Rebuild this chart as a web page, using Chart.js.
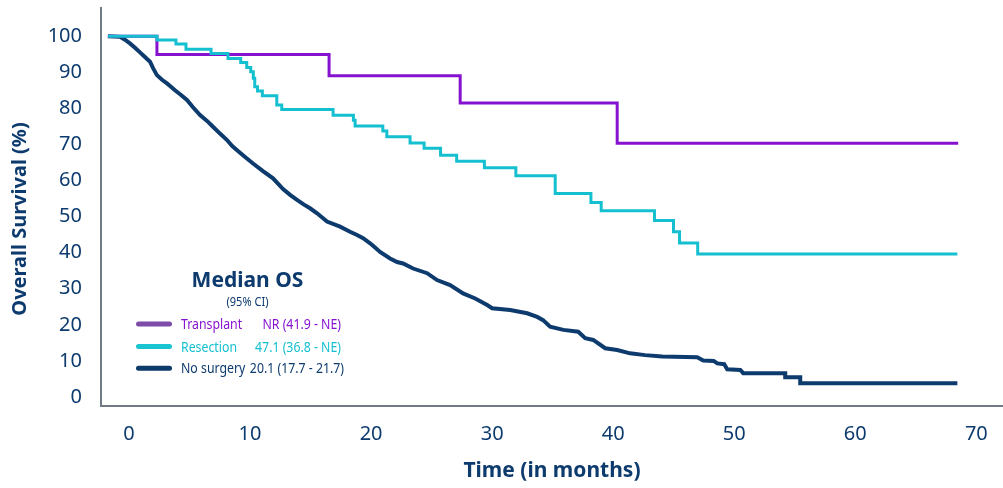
<!DOCTYPE html>
<html>
<head>
<meta charset="utf-8">
<script src="https://cdn.jsdelivr.net/npm/chart.js@4.4.1/dist/chart.umd.min.js"></script>
<style>
html, body { margin: 0; padding: 0; background: #fff; }
#wrap { width: 1003px; height: 488px; }
</style>
</head>
<body>
<div id="wrap"><canvas id="km" width="1003" height="488"></canvas></div>
<script>
// tick labels
const xTicks = [0, 10, 20, 30, 40, 50, 60, 70];
const yTicks = [0, 10, 20, 30, 40, 50, 60, 70, 80, 90, 100];

// Transplant (months, % surviving) - KM steps
const transplantMonths = [-1.74, 2.31, 16.53, 27.36, 40.33, 68.5];
const transplantOS = [100, 94.9, 89.0, 81.5, 70.3, 70.3];

// Resection - KM steps
const resectionMonths = [-1.74, 2.31, 3.88, 4.71, 6.78, 8.18, 9.23, 9.73, 10.06, 10.27, 10.39, 10.62, 11.02,
  12.21, 12.62, 16.86, 18.54, 18.68, 20.97, 21.30, 23.22, 24.38, 25.74, 27.07, 29.36, 31.96, 35.21,
  38.16, 39.01, 43.41, 44.98, 45.48, 46.98, 68.43];
const resectionOS = [100, 98.9, 97.8, 96.4, 95.2, 93.8, 92.7, 91.3, 90.1, 88.3, 86.0, 84.8, 83.5,
  80.9, 79.7, 78.1, 76.7, 75.1, 73.7, 72.1, 70.4, 68.9, 67.0, 65.3, 63.5, 61.3, 56.4,
  53.9, 51.6, 48.9, 45.8, 42.7, 39.6, 39.6];

// No surgery, corners of the late steps included
const noSurgeryMonths = [-1.74, -0.74, -0.33, 0.08, 0.50, 0.91, 1.32, 1.74, 1.98, 2.31, 2.73, 3.14, 3.47,
  3.80, 4.30, 4.79, 5.29, 5.87, 6.45, 6.94, 7.52, 8.10, 8.51, 8.93, 9.59, 10.25, 11.07, 11.90,
  12.73, 13.31, 13.88, 14.46, 14.96, 15.54, 16.36, 17.44, 18.26, 18.84, 19.34, 19.92, 20.33, 20.74,
  21.57, 22.15, 22.64, 23.47, 24.63, 25.45, 26.53, 27.60, 28.60, 29.59, 30.00, 31.49, 32.89, 33.72,
  34.21, 34.79, 35.89, 37.11, 37.69, 38.35, 39.34, 40.33, 41.40, 42.64, 44.05, 46.94, 47.44, 48.30,
  48.60, 49.17, 49.42, 50.50, 50.74, 54.21, 54.21, 55.45, 55.45, 68.43];
const noSurgeryOS = [100, 99.8, 99.0, 98.0, 96.8, 95.5, 94.2, 92.9, 91.2, 89.2, 87.9, 86.9, 86.0,
  85.0, 83.7, 82.3, 80.3, 78.1, 76.5, 74.9, 73.0, 71.2, 69.6, 68.4, 66.5, 64.7, 62.6, 60.6,
  57.6, 56.0, 54.6, 53.3, 52.3, 50.9, 48.6, 47.2, 45.8, 44.9, 44.0, 42.6, 41.4, 40.2,
  38.4, 37.4, 37.0, 35.6, 34.3, 32.4, 31.0, 28.7, 27.3, 25.5, 24.6, 24.1, 23.2, 22.2,
  21.3, 19.5, 18.6, 18.1, 16.3, 15.8, 13.5, 13.0, 12.1, 11.6, 11.2, 11.0, 10.1, 10.0,
  9.3, 9.1, 7.7, 7.5, 6.6, 6.6, 5.5, 5.5, 3.8, 3.8];

// legend text
const seriesNames = ['Transplant', 'Resection', 'No surgery'];
const medianText = ['NR (41.9 - NE)', '47.1 (36.8 - NE)', '20.1 (17.7 - 21.7)'];

const navy = '#0d3b6e';
const purple = '#8612d0';
const cyan = '#14c0cf';
const axisGrey = '#6f7a84';

const toPoints = (xs, ys) => xs.map((x, i) => ({x: x, y: ys[i]}));

// narrow text: squeeze Noto Sans horizontally
const narrowText = (ctx, text, x, y, squeeze) => {
  ctx.save();
  ctx.translate(x, y);
  ctx.scale(squeeze, 1);
  ctx.fillText(text, 0, 0);
  ctx.restore();
};

// legend box + rotated y title, drawn after the chart
const annotations = {
  id: 'annotations',
  afterDraw(chart) {
    const ctx = chart.ctx;
    ctx.save();
    ctx.translate(20.5, 219);
    ctx.rotate(-Math.PI / 2);
    ctx.font = 'bold 20px "Noto Sans"';
    ctx.fillStyle = navy;
    ctx.textAlign = 'center';
    ctx.textBaseline = 'middle';
    ctx.fillText('Overall Survival (%)', 0, 0);
    ctx.restore();

    ctx.save();
    ctx.fillStyle = navy;
    ctx.textAlign = 'center';
    ctx.textBaseline = 'alphabetic';
    ctx.font = 'bold 21px "Noto Sans"';
    ctx.fillText('Median OS', 247.5, 287);
    ctx.font = '13px "Noto Sans"';
    narrowText(ctx, '(95% CI)', 247.5, 306, 0.85);

    const swatch = ['#7d4ba8', '#1ac4d0', '#0b3a6b'];
    const textCol = [purple, cyan, navy];
    const rowY = [329, 351.5, 373.3];
    const valueRight = [341, 341, 344];
    ctx.lineCap = 'round';
    ctx.lineWidth = 5;
    ctx.font = '15px "Noto Sans"';
    rowY.forEach((y, i) => {
      ctx.strokeStyle = swatch[i];
      ctx.beginPath();
      ctx.moveTo(138.5, y - 5);
      ctx.lineTo(169.5, y - 5);
      ctx.stroke();
      ctx.fillStyle = textCol[i];
      ctx.textAlign = 'left';
      narrowText(ctx, seriesNames[i], 181, y, 0.82);
      ctx.textAlign = 'right';
      narrowText(ctx, medianText[i], valueRight[i], y, 0.82);
    });
    ctx.restore();
  }
};

new Chart(document.getElementById('km'), {
  type: 'line',
  data: {
    datasets: [
      {label: 'Resection', data: toPoints(resectionMonths, resectionOS), borderColor: cyan, borderWidth: 3, stepped: 'before'},
      {label: 'Transplant', data: toPoints(transplantMonths, transplantOS), borderColor: purple, borderWidth: 3, stepped: 'before'},
      {label: 'No surgery', data: toPoints(noSurgeryMonths, noSurgeryOS), borderColor: navy, borderWidth: 4, stepped: false}
    ]
  },
  options: {
    responsive: false,
    animation: false,
    devicePixelRatio: 1,
    layout: {padding: {top: 8, right: 0, bottom: 0, left: 0}},
    elements: {
      point: {radius: 0},
      line: {fill: false, tension: 0, borderJoinStyle: 'miter', borderCapStyle: 'butt'}
    },
    plugins: {legend: {display: false}, tooltip: {enabled: false}},
    scales: {
      x: {
        type: 'linear',
        min: -2.31,
        max: 72.2,
        afterBuildTicks: s => { s.ticks = xTicks.map(v => ({value: v})); },
        afterFit: s => { s.height = 82; s.paddingLeft = 0; s.paddingRight = 0; },
        grid: {display: false, drawTicks: false},
        border: {display: true, color: axisGrey, width: 2},
        ticks: {color: navy, padding: 16, maxRotation: 0, autoSkip: false,
          font: {family: 'Noto Sans', size: 20}},
        title: {display: true, text: 'Time (in months)', color: navy,
          font: {family: 'Noto Sans', size: 21, weight: 'bold'}, padding: {top: 0, bottom: 4}}
      },
      y: {
        type: 'linear',
        min: -2.5,
        max: 107.8,
        afterBuildTicks: s => { s.ticks = yTicks.map(v => ({value: v})); },
        afterFit: s => { s.width = 101; s.paddingTop = 0; s.paddingBottom = 0; },
        grid: {display: false, drawTicks: false},
        border: {display: true, color: axisGrey, width: 2},
        ticks: {color: navy, padding: 19, autoSkip: false,
          font: {family: 'Noto Sans', size: 20}}
      }
    }
  },
  plugins: [annotations]
});
</script>
</body>
</html>
